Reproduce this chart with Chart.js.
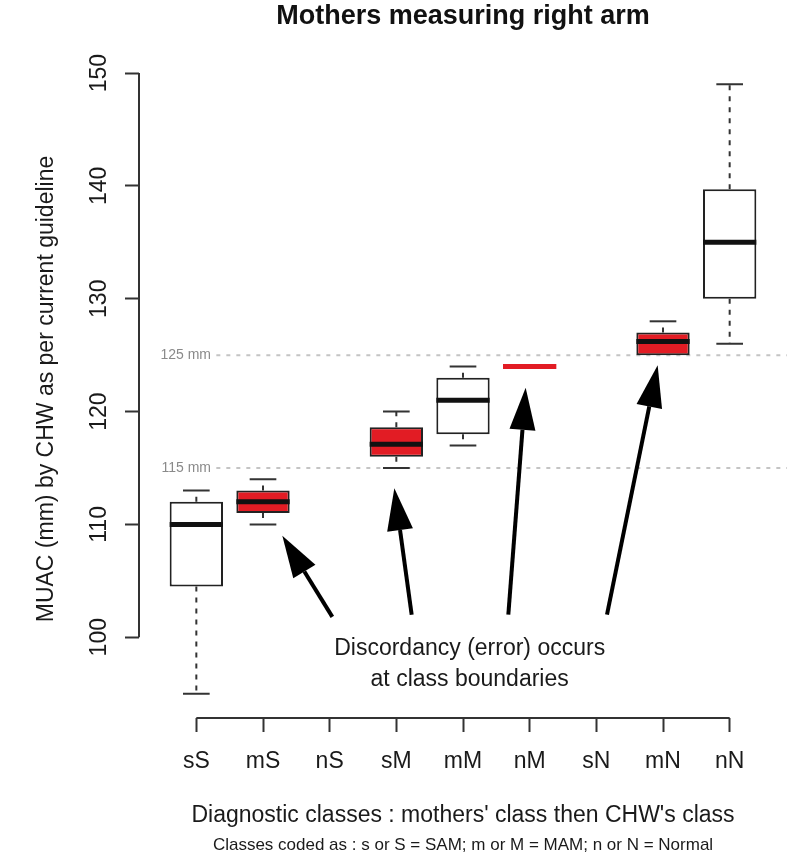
<!DOCTYPE html>
<html>
<head>
<meta charset="utf-8">
<title>Mothers measuring right arm</title>
<script src="https://cdn.jsdelivr.net/npm/chart.js@4.4.1/dist/chart.umd.min.js"></script>
<style>
  html, body { margin: 0; padding: 0; background: #fff; }
</style>
</head>
<body>
<canvas id="chart-1" width="789" height="854"></canvas>
<script>
// box statistics per diagnostic class (mothers' class then CHW's class)
var categories  = ['sS', 'mS', 'nS', 'sM', 'mM', 'nM', 'sN', 'mN', 'nN'];
var whiskerLow  = [95,    110,  null, 115,   117, 124,  null, 125,   126];
var quart1      = [104.5, 111,  null, 116,   118, 124,  null, 125,   130];
var medians     = [110,   112,  null, 117.1, 121, 124,  null, 126.2, 135];
var quart3      = [112,   113,  null, 118.6, 123, 124,  null, 127,   139.7];
var whiskerHigh = [113,   114,  null, 120,   124, 124,  null, 128,   149];
var discordant  = [false, true, false, true, false, true, false, true, false];

var yTicks       = [100, 110, 120, 130, 140, 150];
var cutoffs      = [115, 125];
var cutoffLabels = ['115 mm', '125 mm'];

// note + arrows pointing at the discordant groups, in data units [x, y]
var noteLines  = ['Discordancy (error) occurs', 'at class boundaries'];
var arrowTails = [[3.04, 101.8], [4.23, 102.0], [5.68, 102.0], [7.16, 102.0]];
var arrowTips  = [[2.29, 109.0], [3.97, 113.2], [5.94, 122.1], [7.92, 124.1]];

var FONT = "'Liberation Sans', Arial, Helvetica, sans-serif";
var RED = '#e21c24';
var INK = '#1a1a1a';

// R style axis ranges: data range + 4% each side
var lows = whiskerLow.filter(function(v){ return v !== null; });
var highs = whiskerHigh.filter(function(v){ return v !== null; });
var yLo = Math.min.apply(null, lows), yHi = Math.max.apply(null, highs);
var yMin = yLo - 0.04 * (yHi - yLo), yMax = yHi + 0.04 * (yHi - yLo);
var xMin = 0.5 - 0.04 * categories.length, xMax = categories.length + 0.5 + 0.04 * categories.length;

var boxIdx = [];
categories.forEach(function(c, i) { if (quart1[i] !== null) boxIdx.push(i); });
var boxData = boxIdx.map(function(i) { return {x: i + 1, y: [quart1[i], quart3[i]]}; });
var boxFill = boxIdx.map(function(i) { return discordant[i] ? RED : '#ffffff'; });

function drawArrow(ctx, x0, y0, x1, y1) {
    var ang = Math.atan2(y1 - y0, x1 - x0);
    var len = 42, hw = 13;
    var bx = x1 - len * Math.cos(ang), by = y1 - len * Math.sin(ang);
    ctx.beginPath();
    ctx.moveTo(x0, y0);
    ctx.lineTo(bx, by);
    ctx.stroke();
    ctx.beginPath();
    ctx.moveTo(x1, y1);
    ctx.lineTo(bx + hw * Math.sin(ang), by - hw * Math.cos(ang));
    ctx.lineTo(bx - hw * Math.sin(ang), by + hw * Math.cos(ang));
    ctx.closePath();
    ctx.fill();
}

var boxParts = {
    id: 'boxParts',
    beforeDatasetsDraw: function(chart) {
        var ctx = chart.ctx, xs = chart.scales.x, ys = chart.scales.y;
        ctx.save();
        cutoffs.forEach(function(v, k) {
            var py = ys.getPixelForValue(v);
            ctx.strokeStyle = '#c4c4c4';
            ctx.lineWidth = 2;
            ctx.setLineDash([4, 6]);
            ctx.beginPath();
            ctx.moveTo(xs.getPixelForValue(1.3), py);
            ctx.lineTo(chart.chartArea.right, py);
            ctx.stroke();
            ctx.setLineDash([]);
            ctx.fillStyle = '#8a8a8a';
            ctx.font = '14px ' + FONT;
            ctx.textAlign = 'right';
            ctx.textBaseline = 'middle';
            ctx.fillText(cutoffLabels[k], xs.getPixelForValue(1.22), py);
        });
        ctx.restore();
    },
    afterDatasetsDraw: function(chart) {
        var ctx = chart.ctx, xs = chart.scales.x, ys = chart.scales.y;
        var bars = chart.getDatasetMeta(0).data;
        ctx.save();
        boxIdx.forEach(function(i, k) {
            var cx = xs.getPixelForValue(i + 1);
            var half = bars[k].width / 2;
            var pHi = ys.getPixelForValue(whiskerHigh[i]), pLo = ys.getPixelForValue(whiskerLow[i]);
            var pQ3 = ys.getPixelForValue(quart3[i]), pQ1 = ys.getPixelForValue(quart1[i]);
            // dashed whiskers
            ctx.strokeStyle = '#333';
            ctx.lineWidth = 2;
            ctx.setLineDash([5, 6]);
            ctx.beginPath();
            ctx.moveTo(cx, pQ3); ctx.lineTo(cx, pHi);
            ctx.moveTo(cx, pQ1); ctx.lineTo(cx, pLo);
            ctx.stroke();
            ctx.setLineDash([]);
            // staples
            ctx.beginPath();
            if (whiskerHigh[i] !== quart3[i]) { ctx.moveTo(cx - half / 2, pHi); ctx.lineTo(cx + half / 2, pHi); }
            if (whiskerLow[i] !== quart1[i]) { ctx.moveTo(cx - half / 2, pLo); ctx.lineTo(cx + half / 2, pLo); }
            ctx.stroke();
            // median
            ctx.strokeStyle = quart1[i] === quart3[i] ? RED : '#111';
            ctx.lineWidth = 5;
            ctx.beginPath();
            ctx.moveTo(cx - half, ys.getPixelForValue(medians[i]));
            ctx.lineTo(cx + half, ys.getPixelForValue(medians[i]));
            ctx.stroke();
        });

        // axis lines, only between first and last tick like R
        ctx.strokeStyle = '#333';
        ctx.lineWidth = 2;
        ctx.beginPath();
        ctx.moveTo(chart.chartArea.left, ys.getPixelForValue(yTicks[0]));
        ctx.lineTo(chart.chartArea.left, ys.getPixelForValue(yTicks[yTicks.length - 1]));
        ctx.moveTo(xs.getPixelForValue(1), chart.chartArea.bottom);
        ctx.lineTo(xs.getPixelForValue(categories.length), chart.chartArea.bottom);
        ctx.stroke();

        // arrows + note
        ctx.strokeStyle = '#000';
        ctx.fillStyle = '#000';
        ctx.lineWidth = 4;
        arrowTails.forEach(function(t, k) {
            drawArrow(ctx, xs.getPixelForValue(t[0]), ys.getPixelForValue(t[1]),
                xs.getPixelForValue(arrowTips[k][0]), ys.getPixelForValue(arrowTips[k][1]));
        });
        ctx.fillStyle = INK;
        ctx.font = '23px ' + FONT;
        ctx.textAlign = 'center';
        ctx.textBaseline = 'middle';
        ctx.fillText(noteLines[0], xs.getPixelForValue(5.1), ys.getPixelForValue(99.0));
        ctx.fillText(noteLines[1], xs.getPixelForValue(5.1), ys.getPixelForValue(96.2));
        ctx.restore();
    }
};

var chartConfig = {
    type: 'bar',
    data: {
        datasets: [{
            label: 'IQR',
            data: boxData,
            backgroundColor: boxFill,
            borderColor: '#222',
            borderWidth: 2,
            borderSkipped: false,
            barPercentage: 0.8,
            categoryPercentage: 1.0
        }]
    },
    options: {
        responsive: false,
        animation: false,
        layout: { padding: { left: 0, right: 2, top: 0, bottom: 0 } },
        plugins: {
            legend: { display: false },
            tooltip: { enabled: false },
            title: {
                display: true,
                fullSize: false,
                text: 'Mothers measuring right arm',
                color: '#111',
                font: { family: FONT, size: 27, weight: 'bold', lineHeight: 1.2 },
                padding: { top: 0, bottom: 27.6 }
            },
            subtitle: {
                display: true,
                position: 'bottom',
                fullSize: false,
                text: 'Classes coded as : s or S = SAM; m or M = MAM; n or N = Normal',
                color: INK,
                font: { family: FONT, size: 17, lineHeight: 1 },
                padding: 0
            }
        },
        scales: {
            x: {
                type: 'linear',
                min: xMin,
                max: xMax,
                offset: false,
                afterBuildTicks: function(axis) {
                    axis.ticks = categories.map(function(c, i) { return { value: i + 1 }; });
                },
                afterFit: function(axis) { axis.height = 119; },
                border: { display: false },
                grid: { offset: false, drawOnChartArea: false, drawTicks: true, tickLength: 14, tickColor: '#333', tickWidth: 2 },
                ticks: {
                    autoSkip: false,
                    maxRotation: 0,
                    padding: 16,
                    color: INK,
                    font: { family: FONT, size: 23 },
                    callback: function(v) { return categories[v - 1]; }
                },
                title: {
                    display: true,
                    text: "Diagnostic classes : mothers' class then CHW's class",
                    color: INK,
                    font: { family: FONT, size: 23 },
                    padding: { top: 0, bottom: 8 }
                }
            },
            y: {
                type: 'linear',
                min: yMin,
                max: yMax,
                afterBuildTicks: function(axis) {
                    axis.ticks = yTicks.map(function(v) { return { value: v }; });
                },
                afterFit: function(axis) { axis.width = 139; },
                border: { display: false },
                grid: { drawOnChartArea: false, drawTicks: true, tickLength: 14, tickColor: '#333', tickWidth: 2 },
                ticks: {
                    minRotation: 90,
                    maxRotation: 90,
                    crossAlign: 'center',
                    padding: 6,
                    color: INK,
                    font: { family: FONT, size: 23 }
                },
                title: {
                    display: true,
                    text: 'MUAC (mm) by CHW as per current guideline',
                    color: INK,
                    font: { family: FONT, size: 23 },
                    padding: { top: 33, bottom: 0 }
                }
            }
        }
    },
    plugins: [boxParts]
};

var boxChart = new Chart(document.getElementById('chart-1'), chartConfig);
</script>
</body>
</html>
